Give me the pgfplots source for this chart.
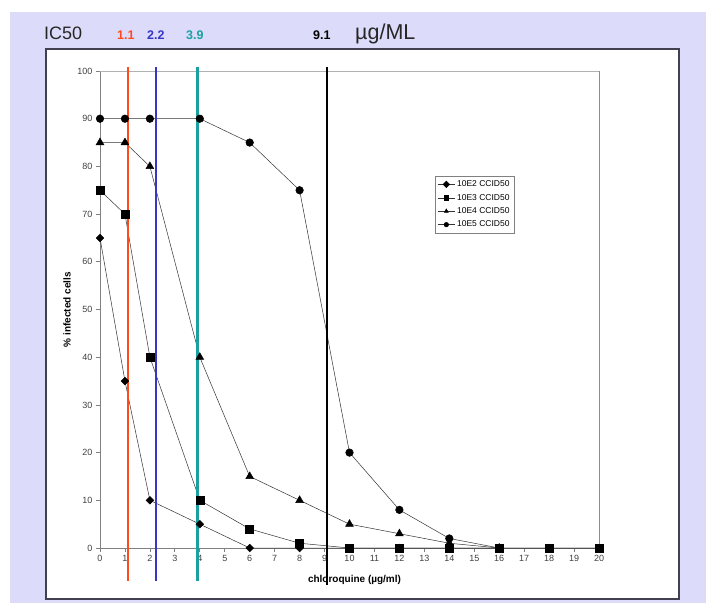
\documentclass[border=0pt]{standalone}
\usepackage{pgfplots}
\pgfplotsset{compat=1.18}
\usepackage{fontspec}
\setmainfont{Liberation Sans}
\definecolor{lav}{HTML}{DCDCFA}
\definecolor{boxline}{HTML}{404050}
\definecolor{axgray}{HTML}{808080}
\definecolor{icred}{HTML}{FF4A1C}
\definecolor{icblue}{HTML}{3535C8}
\definecolor{icteal}{HTML}{1AA0A0}

\begin{document}
\begin{tikzpicture}
% page background and chart area
\path[use as bounding box] (0pt,0pt) rectangle (706pt,-603pt);
\fill[white] (0pt,0pt) rectangle (706pt,-603pt);
\fill[lav] (10pt,-12pt) rectangle (706pt,-603pt);
\filldraw[fill=white, draw=boxline, line width=1.2pt] (46pt,-49pt) rectangle (679pt,-599pt);

% title line
\node[anchor=base west, inner sep=0pt, font=\fontsize{18}{20}\selectfont, text=black!85] at (44pt,-39pt) {IC50};
\node[anchor=base west, inner sep=0pt, font=\bfseries\fontsize{12.5}{14}\selectfont, text=icred] at (117pt,-39pt) {1.1};
\node[anchor=base west, inner sep=0pt, font=\bfseries\fontsize{12.5}{14}\selectfont, text=icblue] at (147pt,-39pt) {2.2};
\node[anchor=base west, inner sep=0pt, font=\bfseries\fontsize{12.5}{14}\selectfont, text=icteal] at (186pt,-39pt) {3.9};
\node[anchor=base west, inner sep=0pt, font=\bfseries\fontsize{12.5}{14}\selectfont, text=black] at (313pt,-39pt) {9.1};
\node[anchor=base west, inner sep=0pt, font=\fontsize{21.5}{23}\selectfont, text=black!85] at (355pt,-39pt) {µg/ML};

\begin{axis}[
    at={(100pt,-548pt)}, anchor=south west,
    scale only axis, width=499pt, height=477pt,
    xmin=0, xmax=20, ymin=0, ymax=100,
    clip=false,
    axis x line*=bottom, axis y line*=left,
    axis line style={draw=axgray, line width=0.8pt},
    xtick={0,1,...,20}, ytick={0,10,...,100},
    tick align=outside, major tick length=4pt,
    tick style={draw=axgray, line width=0.8pt},
    ticklabel style={font=\fontsize{9}{10}\selectfont, text=black!75},
    /pgf/number format/assume math mode=true,
    xlabel={chloroquine (µg/ml)},
    ylabel={\% infected cells},
    xlabel style={font=\bfseries\fontsize{10}{12}\selectfont, at={(axis description cs:0.51,-0.067)}, anchor=center},
    ylabel style={font=\bfseries\fontsize{10}{12}\selectfont, at={(axis description cs:-0.066,0.5)}, anchor=center},
    legend style={at={(axis description cs:0.671,0.780)}, anchor=north west,
        draw=axgray, fill=white, font=\fontsize{8.5}{10}\selectfont,
        row sep=2pt, inner sep=2.5pt},
    legend image post style={mark size=2.3pt},
    legend cell align=left,
]
\draw[black!30, line width=0.8pt] (axis cs:0,100) -- (axis cs:20,100);
\draw[black!45, line width=0.8pt] (axis cs:20,100) -- (axis cs:20,0);

\addplot[black!80, line width=0.5pt, mark=square*, mark size=2.7pt, mark options={fill=black, draw=black, rotate=45}]
    coordinates {(0,65) (1,35) (2,10) (4,5) (6,0) (8,0) (10,0) (12,0) (14,0) (16,0) (18,0) (20,0)};
\addlegendentry{10E2 CCID50}
\addplot[black!80, line width=0.5pt, mark=square*, mark size=4pt, mark options={fill=black, draw=black}]
    coordinates {(0,75) (1,70) (2,40) (4,10) (6,4) (8,1) (10,0) (12,0) (14,0) (16,0) (18,0) (20,0)};
\addlegendentry{10E3 CCID50}
\addplot[black!80, line width=0.5pt, mark=triangle*, mark size=4.5pt, mark options={fill=black, draw=black}]
    coordinates {(0,85) (1,85) (2,80) (4,40) (6,15) (8,10) (10,5) (12,3) (14,1) (16,0)};
\addlegendentry{10E4 CCID50}
\addplot[black!80, line width=0.5pt, mark=*, mark size=3.8pt, mark options={fill=black, draw=black}]
    coordinates {(0,90) (1,90) (2,90) (4,90) (6,85) (8,75) (10,20) (12,8) (14,2) (16,0)};
\addlegendentry{10E5 CCID50}

% IC50 markers
\addplot[icred, line width=2.4pt, forget plot] coordinates {(1.13,-6.9) (1.13,100.8)};
\addplot[icblue, line width=2.4pt, forget plot] coordinates {(2.24,-6.9) (2.24,100.8)};
\addplot[icteal, line width=2.4pt, forget plot] coordinates {(3.9,-6.9) (3.9,100.8)};
\addplot[black, line width=2.4pt, forget plot] coordinates {(9.1,-7.8) (9.1,100.8)};
\end{axis}
\end{tikzpicture}
\end{document}
